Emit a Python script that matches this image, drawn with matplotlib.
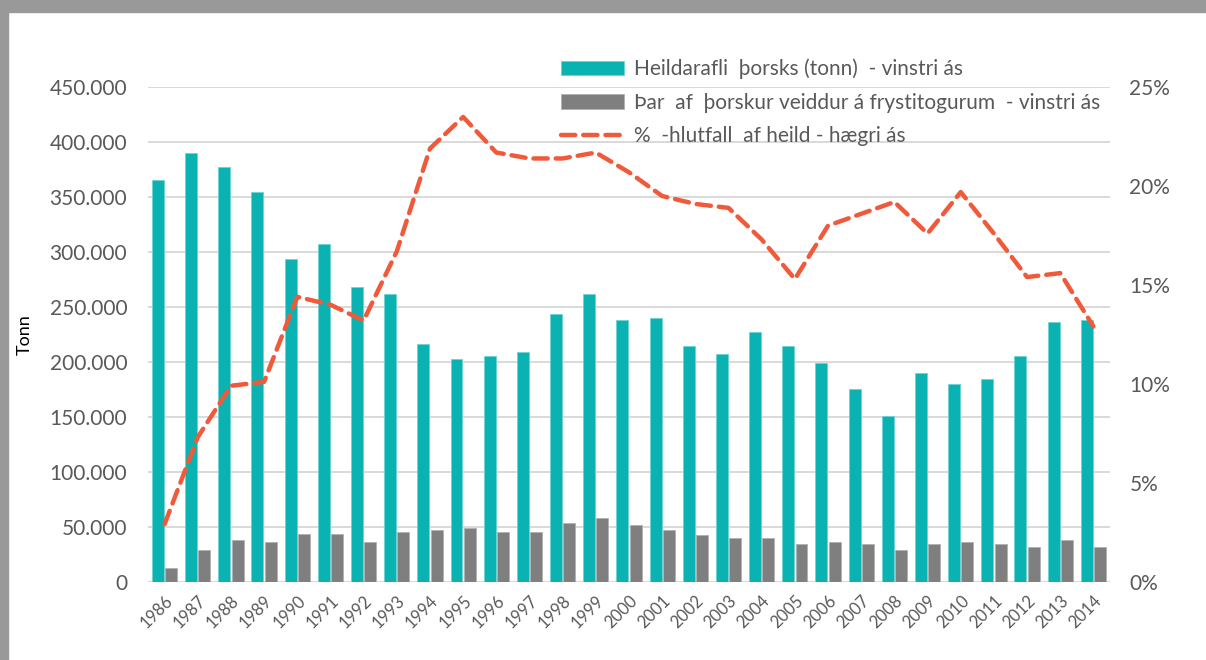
import matplotlib
matplotlib.use('Agg')
import matplotlib.pyplot as plt
import numpy as np
from matplotlib.patches import Rectangle
from matplotlib.ticker import FuncFormatter, MultipleLocator

plt.rcParams['font.family'] = ['Lato', 'DejaVu Sans']

years = [str(y) for y in range(1986, 2015)]

# Heildarafli þorsks (tonn)
total_catch = [366000, 390000, 377000, 355000, 294000, 307000, 268000, 262000,
               216000, 203000, 205000, 209000, 244000, 262000, 238000, 240000,
               214000, 207000, 227000, 214000, 199000, 175000, 151000, 190000,
               180000, 184000, 205000, 236000, 238000]

# Þar af þorskur veiddur á frystitogurum
freezer_catch = [12000, 29000, 38000, 36000, 43000, 43000, 36000, 45000,
                 47000, 49000, 45000, 45000, 53000, 58000, 51000, 47000,
                 42000, 40000, 40000, 34000, 36000, 34000, 29000, 34000,
                 36000, 34000, 31000, 38000, 31000]

# %-hlutfall af heild
share_pct = [2.9, 7.3, 9.9, 10.1, 14.4, 14.0, 13.2, 16.7, 21.9, 23.5, 21.7,
             21.4, 21.4, 21.7, 20.7, 19.5, 19.1, 18.9, 17.3, 15.3, 18.0, 18.6,
             19.2, 17.6, 19.7, 17.6, 15.4, 15.6, 12.9]

labels = ["Heildarafli  þorsks (tonn)  - vinstri ás",
          "Þar  af  þorskur veiddur á frystitogurum  - vinstri ás",
          "%  -hlutfall  af heild - hægri ás"]

TEAL = '#0ab2b2'
GREY = '#7f7f7f'
RED = '#f05a3a'
TXT = '#595959'
GRID = '#d9d9d9'

W, H = 1206, 660
fig = plt.figure(figsize=(W / 100, H / 100), dpi=100)
fig.patch.set_facecolor('white')

# grey frame at top and left edge
fig.patches.append(Rectangle((0, 1 - 12 / H), 1, 12 / H, transform=fig.transFigure,
                             color='#999999', zorder=0))
fig.patches.append(Rectangle((0, 0), 8 / W, 1, transform=fig.transFigure,
                             color='#999999', zorder=0))

left, right, top, bottom = 148, 1110, 87.3, 581.5
ax = fig.add_axes([left / W, 1 - bottom / H, (right - left) / W, (bottom - top) / H])

x = np.arange(len(years))
bw = 0.36
b1 = ax.bar(x - 0.2, total_catch, width=bw, color=TEAL, edgecolor='#6fd3d3',
            linewidth=0.6, zorder=3, label=labels[0])
b2 = ax.bar(x + 0.2, freezer_catch, width=bw, color=GREY, edgecolor='#b0b0b0',
            linewidth=0.6, zorder=3, label=labels[1])

ax.set_xlim(-0.5, len(years) - 0.5)
ax.set_ylim(0, 450000)
ax.yaxis.set_major_locator(MultipleLocator(50000))
ax.yaxis.set_major_formatter(FuncFormatter(lambda v, p: f"{int(v):,}".replace(",", ".")))
ax.grid(axis='y', color=GRID, linewidth=1.4, zorder=0)
ax.set_axisbelow(True)
for s in ax.spines.values():
    s.set_visible(False)
ax.axhline(0, color=GRID, linewidth=2.2, zorder=2)

ax.set_xticks(x)
ax.set_xticklabels(years, rotation=45, ha='right', rotation_mode='anchor',
                   fontsize=12, color=TXT)
ax.tick_params(axis='both', length=0)
ax.tick_params(axis='x', pad=8)
ax.tick_params(axis='y', labelsize=15, labelcolor=TXT, pad=15)
ax.set_ylabel('Tonn', fontsize=13, color='black', labelpad=12)

ax2 = ax.twinx()
ln, = ax2.plot(x, share_pct, color=RED, linewidth=3.2, linestyle=(0, (3.2, 1.8)),
               dash_capstyle='round', zorder=5, label=labels[2])
ax2.set_ylim(0, 25)
ax2.yaxis.set_major_locator(MultipleLocator(5))
ax2.yaxis.set_major_formatter(FuncFormatter(lambda v, p: f"{int(v)}%"))
ax2.tick_params(axis='y', length=0, labelsize=15, labelcolor=TXT, pad=14)
for s in ax2.spines.values():
    s.set_visible(False)

fig.legend([b1, b2, ln], labels, loc='upper left',
           bbox_to_anchor=(561 / W, 1 - 58.5 / H), bbox_transform=fig.transFigure,
           frameon=False, fontsize=15, labelcolor=TXT, handlelength=3.0,
           handleheight=0.7, handletextpad=0.5, labelspacing=0.65,
           borderpad=0, borderaxespad=0)

fig.savefig('out.png', dpi=100, facecolor=fig.get_facecolor())
